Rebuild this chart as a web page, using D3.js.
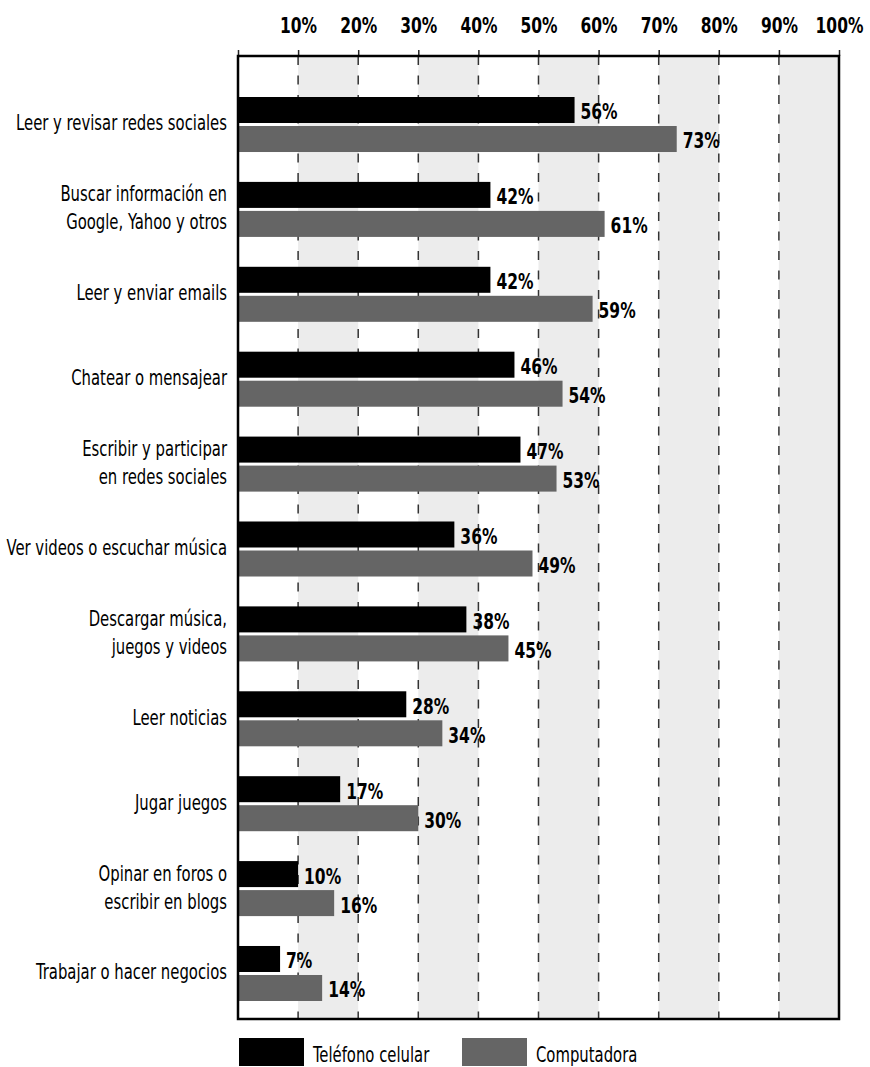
<!DOCTYPE html>
<html>
<head>
<meta charset="utf-8">
<script src="https://cdn.jsdelivr.net/npm/d3@7"></script>
<style>
    body { margin: 0; background: #fff; }
    text { font-family: "Liberation Sans Narrow", "DejaVu Sans Condensed", "Roboto Condensed", sans-serif; }
</style>
</head>
<body>
<div class="canvas"></div>
<script>
// data
const categories = [
    'Leer y revisar redes sociales',
    'Buscar información en \nGoogle, Yahoo y otros',
    'Leer y enviar emails',
    'Chatear o mensajear',
    'Escribir y participar\nen redes sociales',
    'Ver videos o escuchar música',
    'Descargar música,\njuegos y videos',
    'Leer noticias',
    'Jugar juegos',
    'Opinar en foros o\nescribir en blogs',
    'Trabajar o hacer negocios'
];
const seriesNames = ['Teléfono celular', 'Computadora'];
const phoneValues = [56, 42, 42, 46, 47, 36, 38, 28, 17, 10, 7];
const computerValues = [73, 61, 59, 54, 53, 49, 45, 34, 30, 16, 14];
const tickValues = [0, 10, 20, 30, 40, 50, 60, 70, 80, 90, 100];

const colors = ['#000000', '#656565'];

// the original uses a tall condensed face, so squeeze the text horizontally
const squeezeLabel = 0.75;
const squeezeBold = 0.82;

// svg container
const width = 870;
const height = 1067;
const svg = d3.select('.canvas')
    .append('svg')
    .attr('width', width)
    .attr('height', height);

const margin = { top: 56, right: 31, bottom: 48, left: 238 };
const graphWidth = width - margin.left - margin.right;
const graphHeight = height - margin.top - margin.bottom;

const graph = svg.append('g')
    .attr('transform', `translate(${margin.left}, ${margin.top})`);

// scales
const x = d3.scaleLinear()
    .domain([0, 100])
    .range([0, graphWidth]);

const y = d3.scaleBand()
    .domain(categories)
    .range([41, graphHeight - 18])
    .paddingInner(0.352)
    .paddingOuter(0);

const ySub = d3.scaleBand()
    .domain(seriesNames)
    .range([0, y.bandwidth()])
    .paddingInner(3 / 29);

// alternating background bands
graph.selectAll('rect.band')
    .data(d3.pairs(tickValues).filter((p, i) => i % 2 === 1))
    .enter()
    .append('rect')
    .attr('class', 'band')
    .attr('x', d => x(d[0]))
    .attr('width', d => x(d[1]) - x(d[0]))
    .attr('y', 0)
    .attr('height', graphHeight)
    .attr('fill', '#ececec');

// dashed grid lines
graph.selectAll('line.grid')
    .data(tickValues.slice(1, -1))
    .enter()
    .append('line')
    .attr('class', 'grid')
    .attr('x1', d => x(d))
    .attr('x2', d => x(d))
    .attr('y1', 0)
    .attr('y2', graphHeight)
    .attr('stroke', '#333')
    .attr('stroke-width', 1.5)
    .attr('stroke-dasharray', '9,10.5');

// bars
const rows = categories.map((c, i) => ({
    cat: c,
    vals: [phoneValues[i], computerValues[i]]
}));

const groups = graph.selectAll('g.row')
    .data(rows)
    .enter()
    .append('g')
    .attr('class', 'row')
    .attr('transform', d => `translate(0, ${y(d.cat)})`);

groups.selectAll('rect')
    .data(d => d.vals.map((v, i) => ({ name: seriesNames[i], value: v, i })))
    .enter()
    .append('rect')
    .attr('x', 0)
    .attr('y', d => ySub(d.name))
    .attr('width', d => x(d.value))
    .attr('height', ySub.bandwidth())
    .attr('fill', d => colors[d.i]);

// value labels
groups.selectAll('text.value')
    .data(d => d.vals.map((v, i) => ({ name: seriesNames[i], value: v })))
    .enter()
    .append('text')
    .attr('class', 'value')
    .attr('transform', d => `translate(${x(d.value) + 6}, ${ySub(d.name) + ySub.bandwidth() / 2}) scale(${squeezeBold}, 1)`)
    .attr('dy', '0.45em')
    .attr('font-size', 21)
    .attr('font-weight', 'bold')
    .attr('fill', '#000')
    .text(d => d.value + '%');

// category labels (right aligned, may wrap on two lines)
groups.append('text')
    .attr('class', 'cat')
    .attr('text-anchor', 'end')
    .attr('font-size', 22)
    .attr('fill', '#000')
    .attr('transform', `translate(-11, 0) scale(${squeezeLabel}, 1)`)
    .each(function(d) {
        const lines = d.cat.split('\n');
        const mid = y.bandwidth() / 2 + 6;
        lines.forEach((ln, i) => {
            d3.select(this).append('tspan')
                .attr('x', 0)
                .attr('y', mid + (i - (lines.length - 1) / 2) * 28)
                .text(ln.trim());
        });
    });

// top axis with percentage labels
const xAxis = d3.axisTop(x)
    .tickValues(tickValues)
    .tickSize(6)
    .tickPadding(17)
    .tickFormat(d => d === 0 ? '' : d + '%');

const xAxisGroup = graph.append('g').call(xAxis);
xAxisGroup.select('.domain').remove();
xAxisGroup.selectAll('line')
    .attr('stroke', '#222')
    .attr('stroke-width', 1.5);
xAxisGroup.selectAll('text')
    .attr('font-size', 21)
    .attr('font-weight', 'bold')
    .attr('fill', '#000')
    .attr('dy', 0)
    .attr('transform', `scale(${squeezeBold}, 1)`)
    .style('font-family', '"Liberation Sans Narrow", "DejaVu Sans Condensed", sans-serif');

// frame
graph.append('rect')
    .attr('x', 0)
    .attr('y', 0)
    .attr('width', graphWidth)
    .attr('height', graphHeight)
    .attr('fill', 'none')
    .attr('stroke', '#000')
    .attr('stroke-width', 2.5);

// legend
const legend = svg.append('g')
    .attr('transform', `translate(${margin.left + 1}, ${height - 29})`);

const legendItems = legend.selectAll('g')
    .data(seriesNames)
    .enter()
    .append('g')
    .attr('transform', (d, i) => `translate(${i * 223}, 0)`);

legendItems.append('rect')
    .attr('width', 65)
    .attr('height', 28)
    .attr('fill', (d, i) => colors[i]);

legendItems.append('text')
    .attr('transform', `translate(74, 24) scale(${squeezeLabel}, 1)`)
    .attr('font-size', 22)
    .attr('fill', '#000')
    .text(d => d);
</script>
</body>
</html>
